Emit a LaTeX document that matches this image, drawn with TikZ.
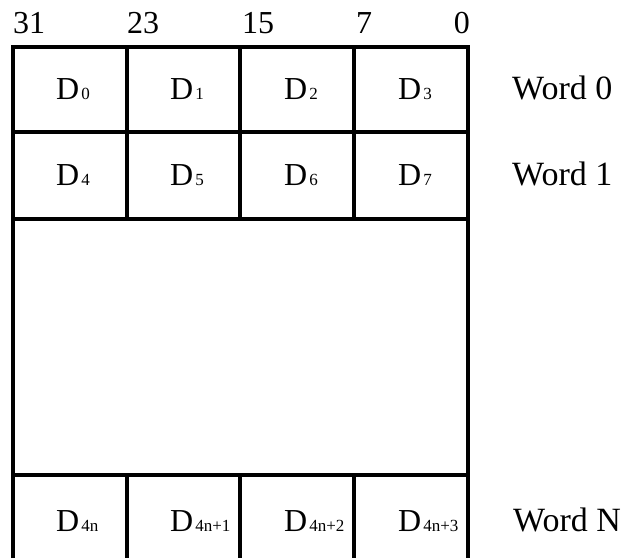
\documentclass[tikz,border=0pt]{standalone}
\usepackage{fontspec}
\setmainfont{Liberation Serif}
% data byte label: D with an index set small on the same baseline
\newcommand\dbyte[1]{D\kern2pt{\fontsize{17}{17}\selectfont #1}}
\begin{document}
\begin{tikzpicture}[x=1pt,y=-1pt,
  gridline/.style={line width=3.2pt},
  bitno/.style={font=\fontsize{32}{32}\selectfont, inner sep=0pt},
  cell/.style={font=\fontsize{32}{32}\selectfont, inner sep=0pt, anchor=base west},
  wordlbl/.style={font=\fontsize{34}{34}\selectfont, inner sep=0pt, anchor=base west}]
\useasboundingbox (0,0) rectangle (626,558);

% outer frame (open at the bottom)
\draw[gridline] (13,558) -- (13,47) -- (468,47) -- (468,558);
% row separators
\draw[gridline] (13,132) -- (468,132);
\draw[gridline] (13,219) -- (468,219);
\draw[gridline] (13,475) -- (468,475);
% byte separators in the word rows
\foreach \x in {127,240,354} {
  \draw[gridline] (\x,47) -- (\x,219);
  \draw[gridline] (\x,475) -- (\x,558);
}

% bit positions
\node[bitno, anchor=base west] (b31) at (13,33) {31};
\node[bitno, anchor=base west] (b23) at (127,33) {23};
\node[bitno, anchor=base west] (b15) at (242,33) {15};
\node[bitno, anchor=base west] (b7)  at (356,33) {7};
\node[bitno, anchor=base east] (b0)  at (470,33) {0};

% word 0
\node[cell] (d0) at (56,99) {\dbyte{0}};
\node[cell] (d1) at (170,99) {\dbyte{1}};
\node[cell] (d2) at (284,99) {\dbyte{2}};
\node[cell] (d3) at (398,99) {\dbyte{3}};
% word 1
\node[cell] (d4) at (56,185) {\dbyte{4}};
\node[cell] (d5) at (170,185) {\dbyte{5}};
\node[cell] (d6) at (284,185) {\dbyte{6}};
\node[cell] (d7) at (398,185) {\dbyte{7}};
% word N
\node[cell] (dn0) at (56,531) {\dbyte{4n}};
\node[cell] (dn1) at (170,531) {\dbyte{4n+1}};
\node[cell] (dn2) at (284,531) {\dbyte{4n+2}};
\node[cell] (dn3) at (398,531) {\dbyte{4n+3}};

% word labels
\node[wordlbl] (w0) at (512,99) {Word 0};
\node[wordlbl] (w1) at (512,185) {Word 1};
\node[wordlbl] (wn) at (513,531) {Word N};
\end{tikzpicture}
\end{document}
